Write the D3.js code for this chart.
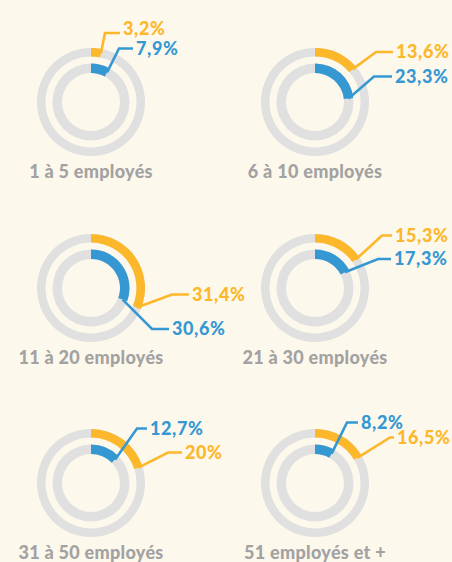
<!DOCTYPE html>
<html>
<head>
<meta charset="utf-8">
<script src="https://cdn.jsdelivr.net/npm/d3@7"></script>
<style>
  html, body { margin: 0; padding: 0; background: #fdf8ec; overflow: hidden; }
  svg { display: block; }
</style>
</head>
<body>
<div id="chart"></div>
<script>
// Data
const categories = ["1 à 5 employés", "6 à 10 employés", "11 à 20 employés",
                    "21 à 30 employés", "31 à 50 employés", "51 employés et +"];
const orangeValues = [3.2, 13.6, 31.4, 15.3, 20, 16.5];
const blueValues = [7.9, 23.3, 30.6, 17.3, 12.7, 8.2];

// Layout of each panel (ring centre) and of the label leaders
const colX = [91, 315];
const rowY = [102, 288, 483];
// [elbow dx, elbow dy, text dx, text dy] relative to the ring centre
const orangeLeader = [[14, -69, 32, -73], [61, -50, 81, -50], [81, 6.5, 101, 6.5],
                      [67, -52.5, 80, -52.5], [77, -30.5, 94, -30.5], [75, -45.5, 82, -45.5]];
const blueLeader = [[28, -53.5, 45, -53.5], [59, -25.5, 80, -25.5], [61, 41, 81, 41],
                    [63, -29, 79, -29], [46, -54.5, 59, -54.5], [32, -60.5, 46, -60.5]];

const width = 452, height = 562;
const orange = "#fcb72a", blue = "#3698d3", grey = "#dfe0df", titleGrey = "#a2a2a2";

const svg = d3.select("#chart").append("svg")
    .attr("width", width)
    .attr("height", height);

const angle = d3.scaleLinear().domain([0, 100]).range([0, 2 * Math.PI]);

const rings = {
    orange: { inner: 45.5, outer: 54 },
    blue: { inner: 29, outer: 38.5 }
};

const fmt = v => String(v).replace(".", ",") + "%";

categories.forEach((cat, i) => {
    const cx = colX[i % 2], cy = rowY[Math.floor(i / 2)];
    const g = svg.append("g").attr("transform", `translate(${cx},${cy})`);

    const series = [
        { key: "orange", value: orangeValues[i], color: orange, leader: orangeLeader[i] },
        { key: "blue", value: blueValues[i], color: blue, leader: blueLeader[i] }
    ];

    // grey tracks
    series.forEach(s => {
        g.append("path")
            .attr("d", d3.arc()
                .innerRadius(rings[s.key].inner)
                .outerRadius(rings[s.key].outer)
                .startAngle(0).endAngle(2 * Math.PI)())
            .attr("fill", grey);
    });

    // value arcs
    series.forEach(s => {
        g.append("path")
            .attr("d", d3.arc()
                .innerRadius(rings[s.key].inner)
                .outerRadius(rings[s.key].outer)
                .startAngle(0).endAngle(angle(s.value))())
            .attr("fill", s.color);
    });

    // leaders + labels
    series.forEach(s => {
        const r = rings[s.key];
        const a = angle(s.value);
        const rm = (r.inner + r.outer) / 2;
        const sx = rm * Math.sin(a), sy = -rm * Math.cos(a);
        const [ex, ey, tx, ty] = s.leader;
        g.append("polyline")
            .attr("points", [[sx, sy], [ex, ey], [tx - 3, ey]].map(p => p.join(",")).join(" "))
            .attr("fill", "none")
            .attr("stroke", s.color)
            .attr("stroke-width", 2.6)
            .attr("stroke-linejoin", "miter");
        g.append("text")
            .attr("x", tx)
            .attr("y", ty)
            .attr("dy", "0.36em")
            .attr("fill", s.color)
            .style("font-family", "Lato, sans-serif")
            .style("font-weight", 900)
            .style("font-size", "18px")
            .style("letter-spacing", "0.6px")
            .text(fmt(s.value));
    });

    // title
    g.append("text")
        .attr("x", 0)
        .attr("y", 76)
        .attr("text-anchor", "middle")
        .attr("fill", titleGrey)
        .style("font-family", "Lato, sans-serif")
        .style("font-weight", 900)
        .style("font-size", "18px")
        .style("letter-spacing", "0.3px")
        .text(cat);
});
</script>
</body>
</html>
